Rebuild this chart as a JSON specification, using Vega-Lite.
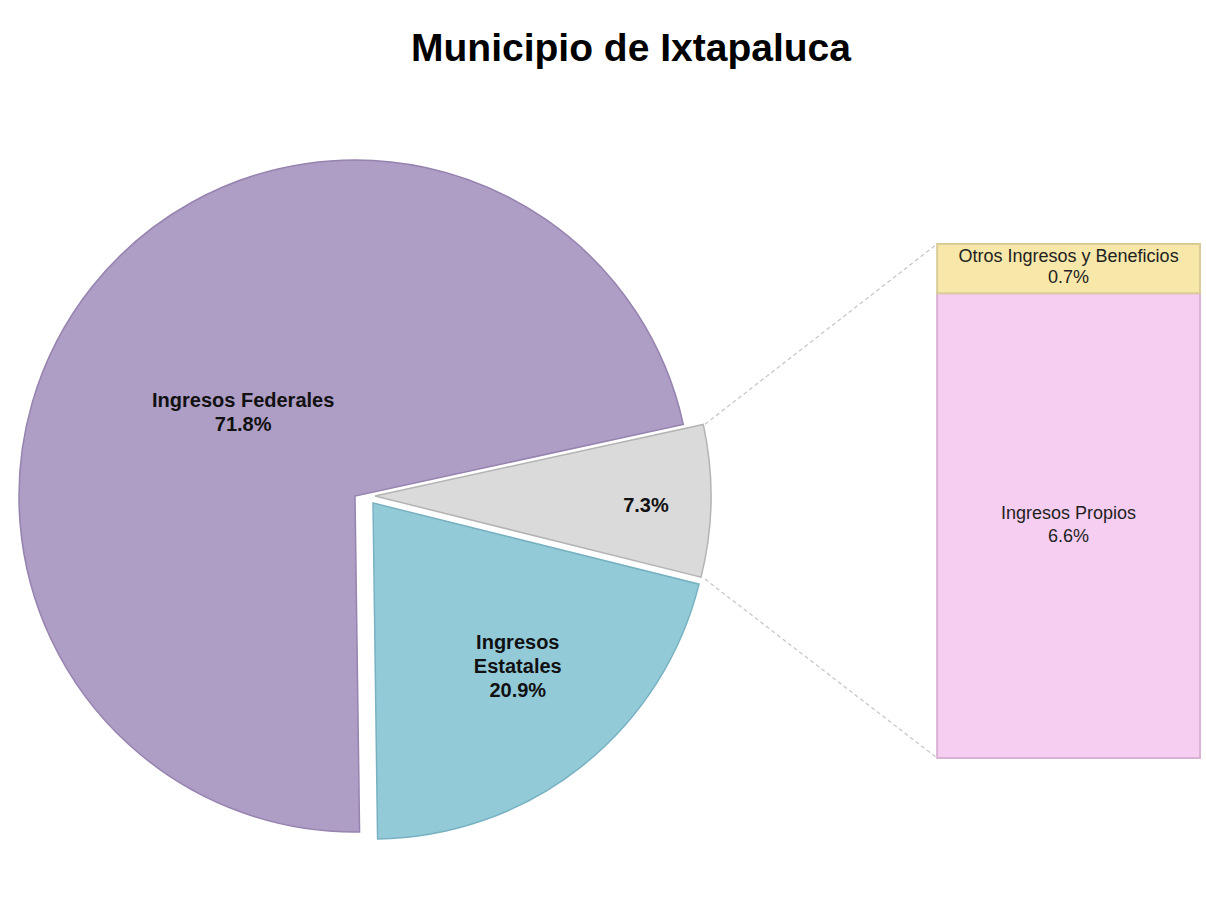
{
  "$schema": "https://vega.github.io/schema/vega-lite/v6.json",
  "padding": {"left": 5, "top": 30, "right": 6, "bottom": 0},
  "background": "white",
  "bounds": "flush",
  "title": {"text": "Municipio de Ixtapaluca", "font": "Liberation Sans", "fontSize": 39, "fontWeight": "bold", "color": "#000000", "anchor": "middle", "dx": 28, "offset": 32},
  "config": {"view": {"stroke": null}, "concat": {"spacing": 0}},
  "spacing": 0,
  "resolve": {"scale": {"color": "independent", "stroke": "independent"}},
  "datasets": {
    "pie": [
      {"cat": "Ingresos Propios y Otros", "pct": 7.3, "orden": 1, "label": "7.3%"},
      {"cat": "Ingresos Estatales", "pct": 20.9, "orden": 2, "label": "Ingresos\nEstatales\n20.9%"},
      {"cat": "Ingresos Federales", "pct": 71.8, "orden": 3, "label": "Ingresos Federales\n71.8%"}
    ],
    "barra": [
      {"cat": "Ingresos Propios", "pct": 6.6, "orden": 1, "label": "Ingresos Propios\n6.6%"},
      {"cat": "Otros Ingresos y Beneficios", "pct": 0.7, "orden": 2, "label": "Otros Ingresos y Beneficios\n0.7%"}
    ]
  },
  "hconcat": [
    {
      "width": 700,
      "height": 790,
      "data": {"name": "pie"},
      "encoding": {
        "theta": {"field": "pct", "type": "quantitative", "stack": true, "scale": {"range": [1.3561, 7.6393]}},
        "order": {"field": "orden", "type": "quantitative"},
        "color": {"field": "cat", "type": "nominal", "legend": null,
          "scale": {"domain": ["Ingresos Federales", "Ingresos Estatales", "Ingresos Propios y Otros"], "range": ["#AE9DC4", "#93CAD8", "#DADADA"]}}
      },
      "layer": [
        {
          "mark": {"type": "arc", "radius": 336, "stroke": "#9683AF", "strokeWidth": 1.5},
          "encoding": {"opacity": {"condition": {"test": "datum.cat === 'Ingresos Federales'", "value": 1}, "value": 0}}
        },
        {
          "mark": {"type": "arc", "radius": 336, "stroke": "#78B2C2", "strokeWidth": 1.5, "xOffset": 18, "yOffset": 7},
          "encoding": {"opacity": {"condition": {"test": "datum.cat === 'Ingresos Estatales'", "value": 1}, "value": 0}}
        },
        {
          "mark": {"type": "arc", "radius": 336, "stroke": "#B4B4B4", "strokeWidth": 1.5, "xOffset": 20, "yOffset": 0},
          "encoding": {"opacity": {"condition": {"test": "datum.cat === 'Ingresos Propios y Otros'", "value": 1}, "value": 0}}
        },
        {
          "mark": {"type": "text", "radius": 139, "dx": -3, "dy": -9, "font": "Liberation Sans", "fontSize": 20, "fontWeight": "bold", "lineBreak": "\n", "lineHeight": 24, "align": "center", "baseline": "middle"},
          "encoding": {"color": {"value": "#111111"}, "text": {"condition": {"test": "datum.cat === 'Ingresos Federales'", "field": "label"}, "value": ""}}
        },
        {
          "mark": {"type": "text", "radius": 217, "xOffset": 18, "yOffset": 7, "dx": 10, "dy": -30, "font": "Liberation Sans", "fontSize": 20, "fontWeight": "bold", "lineBreak": "\n", "lineHeight": 24, "align": "center", "baseline": "middle"},
          "encoding": {"color": {"value": "#111111"}, "text": {"condition": {"test": "datum.cat === 'Ingresos Estatales'", "field": "label"}, "value": ""}}
        },
        {
          "mark": {"type": "text", "radius": 271, "xOffset": 20, "dy": 6, "font": "Liberation Sans", "fontSize": 20, "fontWeight": "bold", "lineBreak": "\n", "lineHeight": 24, "align": "center", "baseline": "middle"},
          "encoding": {"color": {"value": "#111111"}, "text": {"condition": {"test": "datum.cat === 'Ingresos Propios y Otros'", "field": "label"}, "value": ""}}
        }
      ]
    },
    {
      "width": 495,
      "height": 657,
      "data": {"name": "barra"},
      "layer": [
        {
          "transform": [{"filter": "datum.cat === 'Ingresos Propios'"}],
          "mark": {"type": "rule", "strokeDash": [4, 3], "color": "#C8C8C8", "strokeWidth": 1.3},
          "encoding": {
            "x": {"datum": 0, "type": "quantitative", "scale": {"domain": [0, 1], "nice": false, "zero": false}, "axis": null},
            "x2": {"datum": 0.469},
            "y": {"datum": 4.74, "type": "quantitative", "scale": {"domain": [0, 9.33], "nice": false}, "axis": null},
            "y2": {"datum": 7.3}
          }
        },
        {
          "transform": [{"filter": "datum.cat === 'Ingresos Propios'"}],
          "mark": {"type": "rule", "strokeDash": [4, 3], "color": "#C8C8C8", "strokeWidth": 1.3},
          "encoding": {
            "x": {"datum": 0, "type": "quantitative"},
            "x2": {"datum": 0.469},
            "y": {"datum": 2.54, "type": "quantitative"},
            "y2": {"datum": 0}
          }
        },
        {
          "transform": [{"stack": "pct", "groupby": [], "sort": [{"field": "orden", "order": "ascending"}], "as": ["y0", "y1"]}],
          "mark": {"type": "rect", "strokeWidth": 2},
          "encoding": {
            "x": {"datum": 0.469, "type": "quantitative"},
            "x2": {"datum": 1},
            "y": {"field": "y0", "type": "quantitative"},
            "y2": {"field": "y1"},
            "color": {"field": "cat", "type": "nominal", "legend": null,
              "scale": {"domain": ["Ingresos Propios", "Otros Ingresos y Beneficios"], "range": ["#F6CEF1", "#F7E8AA"]}},
            "stroke": {"field": "cat", "type": "nominal", "legend": null,
              "scale": {"domain": ["Ingresos Propios", "Otros Ingresos y Beneficios"], "range": ["#D9B2D4", "#D9CC98"]}}
          }
        },
        {
          "transform": [{"filter": "datum.cat === 'Otros Ingresos y Beneficios'"}],
          "mark": {"type": "text", "font": "Liberation Sans", "fontSize": 18, "lineBreak": "\n", "lineHeight": 21, "align": "center", "baseline": "middle"},
          "encoding": {
            "color": {"value": "#222222"},
            "x": {"datum": 0.7345, "type": "quantitative"},
            "y": {"datum": 7.115, "type": "quantitative"},
            "text": {"field": "label"}
          }
        },
        {
          "transform": [{"filter": "datum.cat === 'Ingresos Propios'"}],
          "mark": {"type": "text", "font": "Liberation Sans", "fontSize": 18, "lineBreak": "\n", "lineHeight": 23, "align": "center", "baseline": "middle"},
          "encoding": {
            "color": {"value": "#222222"},
            "x": {"datum": 0.7345, "type": "quantitative"},
            "y": {"datum": 3.465, "type": "quantitative"},
            "text": {"field": "label"}
          }
        }
      ]
    }
  ]
}
